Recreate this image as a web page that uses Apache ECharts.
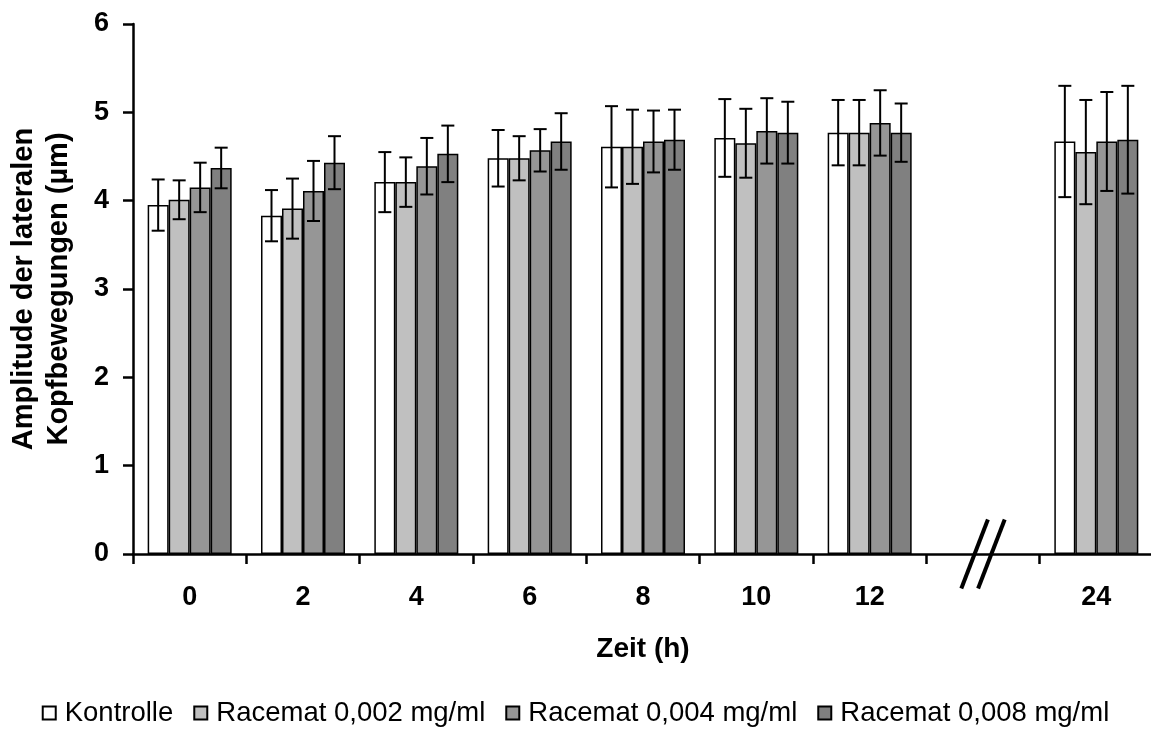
<!DOCTYPE html>
<html>
<head>
<meta charset="utf-8">
<script src="https://cdn.jsdelivr.net/npm/echarts@6/dist/echarts.min.js"></script>
<style>
  html, body { margin: 0; padding: 0; background: #fff; }
  #chart { width: 1151px; height: 733px; }
</style>
</head>
<body>
<div id="chart"></div>
<script>
// Time points (h); the empty slot marks the axis break before 24 h
const categories = ['0', '2', '4', '6', '8', '10', '12', '', '24'];
const yTicks = [0, 1, 2, 3, 4, 5, 6];

const seriesNames = ['Kontrolle', 'Racemat 0,002 mg/ml', 'Racemat 0,004 mg/ml', 'Racemat 0,008 mg/ml'];
const seriesColors = ['#ffffff', '#c0c0c0', '#969696', '#808080'];

// Mean amplitude (µm) per time point
const kontrolle = [3.95, 3.83, 4.21, 4.48, 4.61, 4.71, 4.77, null, 4.67];
const racemat002 = [4.01, 3.91, 4.21, 4.48, 4.61, 4.65, 4.77, null, 4.55];
const racemat004 = [4.15, 4.11, 4.39, 4.57, 4.67, 4.79, 4.88, null, 4.67];
const racemat008 = [4.37, 4.43, 4.53, 4.67, 4.69, 4.77, 4.77, null, 4.69];

// Standard deviation (µm) per time point
const kontrolleErr = [0.29, 0.29, 0.34, 0.32, 0.46, 0.44, 0.37, null, 0.63];
const racemat002Err = [0.22, 0.34, 0.28, 0.25, 0.42, 0.39, 0.37, null, 0.59];
const racemat004Err = [0.28, 0.34, 0.32, 0.24, 0.35, 0.37, 0.37, null, 0.56];
const racemat008Err = [0.23, 0.30, 0.32, 0.32, 0.34, 0.35, 0.33, null, 0.61];

const means = [kontrolle, racemat002, racemat004, racemat008];
const errors = [kontrolleErr, racemat002Err, racemat004Err, racemat008Err];

const FONT = "'Liberation Sans', Arial, sans-serif";
const BAR_W = 21;
const CAP_W = 13;

const chart = echarts.init(document.getElementById('chart'), null, { renderer: 'canvas' });

const barSeries = means.map((vals, i) => ({
  name: seriesNames[i],
  type: 'bar',
  data: vals,
  barWidth: BAR_W,
  barGap: '0%',
  itemStyle: { color: seriesColors[i], borderColor: '#000', borderWidth: 1.5 },
  emphasis: { disabled: true },
  z: 2
}));

// Error bars drawn on top of each bar, offset to that bar's slot in the group
const errorSeries = means.map((vals, i) => ({
  name: seriesNames[i] + ' SD',
  type: 'custom',
  z: 5,
  silent: true,
  data: vals.map((v, k) => (v == null ? null : [k, v, errors[i][k]])).filter(d => d),
  renderItem: function (params, api) {
    const k = api.value(0);
    const m = api.value(1);
    const e = api.value(2);
    const top = api.coord([k, m + e]);
    const bot = api.coord([k, m - e]);
    const x = top[0] + (i - 1.5) * BAR_W;
    const style = { stroke: '#000', lineWidth: 2 };
    return {
      type: 'group',
      children: [
        { type: 'line', shape: { x1: x, y1: top[1], x2: x, y2: bot[1] }, style },
        { type: 'line', shape: { x1: x - CAP_W / 2, y1: top[1], x2: x + CAP_W / 2, y2: top[1] }, style },
        { type: 'line', shape: { x1: x - CAP_W / 2, y1: bot[1], x2: x + CAP_W / 2, y2: bot[1] }, style }
      ]
    };
  }
}));

chart.setOption({
  animation: false,
  backgroundColor: '#ffffff',
  textStyle: { fontFamily: FONT },
  grid: { left: 133, top: 24, width: 1020, height: 530, containLabel: false, outerBoundsMode: 'none' },
  legend: {
    data: seriesNames,
    top: 694,
    left: 'center',
    icon: 'rect',
    itemWidth: 13,
    itemHeight: 13,
    itemGap: 20,
    selectedMode: false,
    textStyle: { fontFamily: FONT, fontSize: 27.5, color: '#000', padding: [0, 0, 0, 4] }
  },
  xAxis: {
    type: 'category',
    data: categories,
    name: 'Zeit (h)',
    nameLocation: 'middle',
    nameGap: 81,
    nameTextStyle: { fontFamily: FONT, fontSize: 28, fontWeight: 'bold', color: '#000' },
    axisLine: { lineStyle: { color: '#000', width: 2.5 } },
    axisTick: { show: true, interval: 0, length: 10, lineStyle: { color: '#000', width: 2.5 } },
    axisLabel: { interval: 0, margin: 30, fontFamily: FONT, fontSize: 27, fontWeight: 'bold', color: '#000' },
    splitLine: { show: false }
  },
  yAxis: {
    type: 'value',
    min: yTicks[0],
    max: yTicks[yTicks.length - 1],
    interval: 1,
    name: 'Amplitude der lateralen\nKopfbewegungen (µm)',
    nameLocation: 'middle',
    nameGap: 57,
    nameRotate: 90,
    nameTextStyle: { fontFamily: FONT, fontSize: 29, fontWeight: 'bold', color: '#000', lineHeight: 35 },
    axisLine: { show: true, lineStyle: { color: '#000', width: 2.5 } },
    axisTick: { show: true, length: 10, lineStyle: { color: '#000', width: 2.5 } },
    axisLabel: { margin: 24, fontFamily: FONT, fontSize: 27, fontWeight: 'bold', color: '#000' },
    splitLine: { show: false }
  },
  series: [...barSeries, ...errorSeries]
});

// Axis break mark "//" centred on the empty slot between 12 h and 24 h
function drawBreak() {
  const c = chart.convertToPixel({ xAxisIndex: 0, yAxisIndex: 0 }, [7, 0]);
  const cx = c[0], cy = c[1];
  const dx = 13.3, dy = 34.5, sep = 8.4;
  const style = { stroke: '#000', lineWidth: 4 };
  chart.setOption({
    graphic: [
      { type: 'line', z: 10, shape: { x1: cx - sep + dx, y1: cy - dy, x2: cx - sep - dx, y2: cy + dy }, style },
      { type: 'line', z: 10, shape: { x1: cx + sep + dx, y1: cy - dy, x2: cx + sep - dx, y2: cy + dy }, style }
    ]
  });
}
drawBreak();
</script>
</body>
</html>
